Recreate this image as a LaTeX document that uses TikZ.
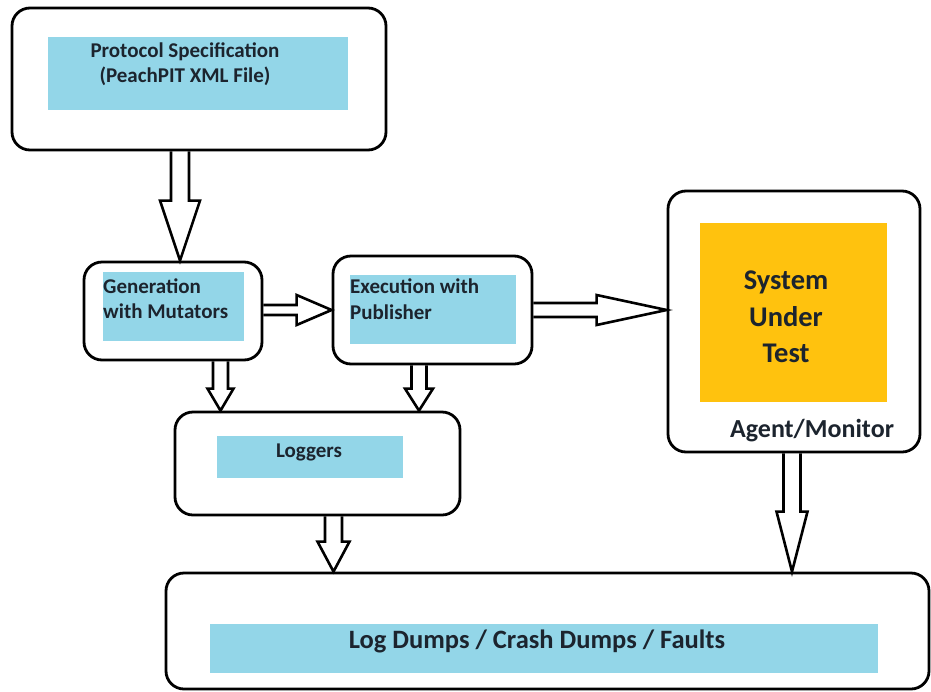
\documentclass[tikz,border=0pt]{standalone}
\usepackage{fontspec}
\setmainfont{Carlito}
\usetikzlibrary{calc}
\definecolor{boxblue}{RGB}{147,214,232}
\definecolor{sutorange}{RGB}{255,194,14}
\definecolor{inktext}{RGB}{28,36,46}
\newcommand{\blkdown}[5]{%
  \draw[blk] ($(#2 |- #1.south)+(-#3,0)$) -- ($(#2)+(-#3,-#5)$) -- ($(#2)+(-#4,-#5)$) -- (#2)
    -- ($(#2)+(#4,-#5)$) -- ($(#2)+(#3,-#5)$) -- ($(#2 |- #1.south)+(#3,0)$);}
\newcommand{\blkright}[5]{%
  \draw[blk] ($(#2 -| #1.east)+(0,-#3)$) -- ($(#2)+(-#5,-#3)$) -- ($(#2)+(-#5,-#4)$) -- (#2)
    -- ($(#2)+(-#5,#4)$) -- ($(#2)+(-#5,#3)$) -- ($(#2 -| #1.east)+(0,#3)$);}

\begin{document}
\begin{tikzpicture}[x=1pt, y=-1pt,
    outer/.style={draw, line width=2.8, rounded corners=18, inner sep=0},
    fillbox/.style={fill=boxblue, inner sep=0},
    lbl/.style={text=inktext, font=\bfseries\fontsize{21}{25.5}\selectfont, inner sep=0},
    blk/.style={line width=2.6, line join=miter}]
    \useasboundingbox (0,0) rectangle (931,691);

    \node[outer, minimum width=374, minimum height=142] (proto) at (199,79) {};
    \node[fillbox, minimum width=300, minimum height=73] (protofill) at (198,73.5) {};
    \node[lbl, align=center] (prototext) at (185,64) {Protocol Specification\\(PeachPIT XML File)};

    \node[outer, minimum width=178, minimum height=98] (gen) at (173,311) {};
    \node[fillbox, minimum width=141, minimum height=69] (genfill) at (173.5,306.5) {};
    \node[lbl, align=left, anchor=north west] (gentext) at (103,278.5) {Generation\\with Mutators};

    \node[outer, minimum width=199, minimum height=108] (exec) at (432.5,310) {};
    \node[fillbox, minimum width=166, minimum height=69] (execfill) at (433,309.5) {};
    \node[lbl, align=left, anchor=north west] (exectext) at (350,279) {Execution with\\Publisher};

    \node[outer, minimum width=285, minimum height=103] (loggers) at (317.5,463.5) {};
    \node[fillbox, minimum width=186, minimum height=42] (loggersfill) at (310,457) {};
    \node[lbl] (loggerstext) at (309,452) {Loggers};

    \node[outer, minimum width=252, minimum height=261] (sut) at (794,321.5) {};
    \node[fill=sutorange, inner sep=0, minimum width=187, minimum height=179] (sutfill) at (793.5,312.5) {};
    \node[lbl, align=center, font=\bfseries\fontsize{28.5}{36.5}\selectfont] (suttext) at (786,317) {System\\Under\\Test};
    \node[lbl, font=\bfseries\fontsize{26}{30}\selectfont] (agent) at (812,430.5) {Agent/Monitor};

    \node[outer, minimum width=763, minimum height=116] (dumps) at (547.5,631) {};
    \node[fillbox, minimum width=668, minimum height=49] (dumpsfill) at (544,648.5) {};
    \node[lbl, font=\bfseries\fontsize{26.5}{30}\selectfont] (dumpstext) at (537,641) {Log Dumps / Crash Dumps / Faults};

    \coordinate (a1) at ([xshift=7]gen.north);
    \coordinate (a3) at ([xshift=-97]loggers.north);
    \coordinate (a4) at ([xshift=101.5]loggers.north);
    \coordinate (a5) at ([yshift=11.5]sut.west);
    \coordinate (a6) at ([xshift=-214]dumps.north);
    \coordinate (a7) at ([xshift=244.5]dumps.north);

    \blkdown{proto}{a1}{9}{20}{60}
    \blkright{gen}{exec.west}{5}{15}{35}
    \blkdown{gen}{a3}{7.5}{13}{22}
    \blkdown{exec}{a4}{7.5}{14}{22}
    \blkright{exec}{a5}{7}{15}{70}
    \blkdown{loggers}{a6}{8.5}{16}{30}
    \blkdown{sut}{a7}{8.5}{15.5}{60}
\end{tikzpicture}
\end{document}
